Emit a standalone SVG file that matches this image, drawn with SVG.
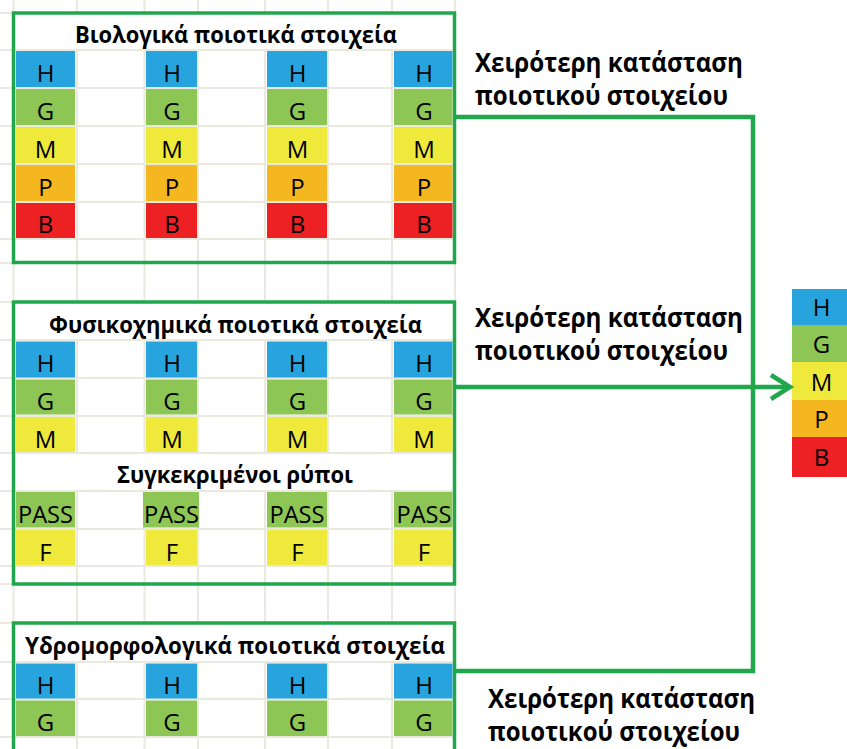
<svg xmlns="http://www.w3.org/2000/svg" width="847" height="749" viewBox="0 0 847 749">
<defs>
<style>
.grid{stroke:#e9e9de;stroke-width:2;fill:none}
.box{fill:none;stroke:#21a74b;stroke-width:3.5}
.conn{fill:none;stroke:#21a74b;stroke-width:4.5;stroke-linejoin:miter}
.H{fill:#27a4dd}.G{fill:#8dc655}.M{fill:#eee93b}.P{fill:#f5b71f}.B{fill:#ed2024}
.c{font-family:'Open Sans','Noto Sans',sans-serif;font-size:24px;fill:#000;text-anchor:middle}
.t{font-family:'Open Sans','Noto Sans',sans-serif;font-size:24px;font-weight:bold;fill:#000;text-anchor:middle}
.l{font-family:'Open Sans','Noto Sans',sans-serif;font-size:27px;font-weight:bold;fill:#000}
</style>
<marker id="arr" markerUnits="userSpaceOnUse" markerWidth="30" markerHeight="34" refX="22" refY="15" orient="auto">
<path d="M3,3 L22,15 L3,27" fill="none" stroke="#21a74b" stroke-width="4.5"/>
</marker>
</defs>
<rect width="847" height="749" fill="#fff"/>
<g id="grid" class="grid">
<path d="M0,13H455M0,50H455M0,88H455M0,126H455M0,164H455M0,202H455M0,239H455M0,263H455M0,302H455M0,340H455M0,378H455M0,416H455M0,453H455M0,491H455M0,529H455M0,566H455M0,584H455M0,623H455M0,662H455M0,699H455M0,737H455"/>
<path d="M13.5,0V749M77,0V749M144.5,0V749M198,0V749M265,0V749M328,0V749M392,0V749M455,0V749"/>
</g>
<g fill="#fff">
<rect x="14" y="14" width="440" height="35"/>
<rect x="14" y="303" width="440" height="36"/>
<rect x="14" y="454" width="440" height="36"/>
<rect x="14" y="624" width="440" height="37"/>
</g>
<g id="bio">
<rect class="box" x="13.5" y="13" width="441" height="249.5"/>
<text class="t" x="236" y="42.5" textLength="322" lengthAdjust="spacingAndGlyphs">Βιολογικά ποιοτικά στοιχεία</text>
<g class="H"><rect x="16" y="51" width="59" height="36"/><rect x="146" y="51" width="51" height="36"/><rect x="267" y="51" width="60" height="36"/><rect x="394" y="51" width="58.5" height="36"/></g>
<g class="G"><rect x="16" y="89" width="59" height="36"/><rect x="146" y="89" width="51" height="36"/><rect x="267" y="89" width="60" height="36"/><rect x="394" y="89" width="58.5" height="36"/></g>
<g class="M"><rect x="16" y="127" width="59" height="36"/><rect x="146" y="127" width="51" height="36"/><rect x="267" y="127" width="60" height="36"/><rect x="394" y="127" width="58.5" height="36"/></g>
<g class="P"><rect x="16" y="165" width="59" height="36"/><rect x="146" y="165" width="51" height="36"/><rect x="267" y="165" width="60" height="36"/><rect x="394" y="165" width="58.5" height="36"/></g>
<g class="B"><rect x="16" y="203" width="59" height="35"/><rect x="146" y="203" width="51" height="35"/><rect x="267" y="203" width="60" height="35"/><rect x="394" y="203" width="58.5" height="35"/></g>
<g class="c">
<text x="45.5" y="81.5">H</text><text x="172" y="81.5">H</text><text x="297.5" y="81.5">H</text><text x="424" y="81.5">H</text>
<text x="45.5" y="119.5">G</text><text x="172" y="119.5">G</text><text x="297.5" y="119.5">G</text><text x="424" y="119.5">G</text>
<text x="45.5" y="157.5">M</text><text x="172" y="157.5">M</text><text x="297.5" y="157.5">M</text><text x="424" y="157.5">M</text>
<text x="45.5" y="195.5">P</text><text x="172" y="195.5">P</text><text x="297.5" y="195.5">P</text><text x="424" y="195.5">P</text>
<text x="45.5" y="232.5">B</text><text x="172" y="232.5">B</text><text x="297.5" y="232.5">B</text><text x="424" y="232.5">B</text>
</g>
</g>
<g id="physchem">
<rect class="box" x="13.5" y="302" width="441" height="282"/>
<text class="t" x="235.5" y="332.5" textLength="373" lengthAdjust="spacingAndGlyphs">Φυσικοχημικά ποιοτικά στοιχεία</text>
<text class="t" x="235" y="482.5" textLength="236" lengthAdjust="spacingAndGlyphs">Συγκεκριμένοι ρύποι</text>
<g class="H"><rect x="16" y="341.5" width="59" height="36"/><rect x="146" y="341.5" width="51" height="36"/><rect x="267" y="341.5" width="60" height="36"/><rect x="394" y="341.5" width="58.5" height="36"/></g>
<g class="G"><rect x="16" y="379.5" width="59" height="35"/><rect x="146" y="379.5" width="51" height="35"/><rect x="267" y="379.5" width="60" height="35"/><rect x="394" y="379.5" width="58.5" height="35"/></g>
<g class="M"><rect x="16" y="417" width="59" height="35"/><rect x="146" y="417" width="51" height="35"/><rect x="267" y="417" width="60" height="35"/><rect x="394" y="417" width="58.5" height="35"/></g>
<g class="G"><rect x="16" y="492" width="59" height="35.5"/><rect x="143" y="492" width="56" height="35.5"/><rect x="267" y="492" width="60" height="35.5"/><rect x="394" y="492" width="58.5" height="35.5"/></g>
<g class="M"><rect x="16" y="530" width="59" height="35"/><rect x="146" y="530" width="51" height="35"/><rect x="267" y="530" width="60" height="35"/><rect x="394" y="530" width="58.5" height="35"/></g>
<g class="c">
<text x="45.5" y="371.5">H</text><text x="172" y="371.5">H</text><text x="297.5" y="371.5">H</text><text x="424" y="371.5">H</text>
<text x="45.5" y="409.5">G</text><text x="172" y="409.5">G</text><text x="297.5" y="409.5">G</text><text x="424" y="409.5">G</text>
<text x="45.5" y="447.5">M</text><text x="172" y="447.5">M</text><text x="297.5" y="447.5">M</text><text x="424" y="447.5">M</text>
<text x="45.5" y="522.5" textLength="55" lengthAdjust="spacingAndGlyphs">PASS</text><text x="171.5" y="522.5" textLength="55" lengthAdjust="spacingAndGlyphs">PASS</text><text x="297" y="522.5" textLength="55" lengthAdjust="spacingAndGlyphs">PASS</text><text x="424" y="522.5" textLength="55" lengthAdjust="spacingAndGlyphs">PASS</text>
<text x="45.5" y="560.5">F</text><text x="172" y="560.5">F</text><text x="297.5" y="560.5">F</text><text x="424" y="560.5">F</text>
</g>
</g>
<g id="hydro">
<path class="box" d="M13.5,760V623H454.5V760"/>
<text class="t" x="235" y="653.5" textLength="420" lengthAdjust="spacingAndGlyphs">Υδρομορφολογικά ποιοτικά στοιχεία</text>
<g class="H"><rect x="16" y="663.5" width="59" height="35"/><rect x="146" y="663.5" width="51" height="35"/><rect x="267" y="663.5" width="60" height="35"/><rect x="394" y="663.5" width="58.5" height="35"/></g>
<g class="G"><rect x="16" y="700.5" width="59" height="35.5"/><rect x="146" y="700.5" width="51" height="35.5"/><rect x="267" y="700.5" width="60" height="35.5"/><rect x="394" y="700.5" width="58.5" height="35.5"/></g>
<g class="c">
<text x="45.5" y="693.5">H</text><text x="172" y="693.5">H</text><text x="297.5" y="693.5">H</text><text x="424" y="693.5">H</text>
<text x="45.5" y="730.5">G</text><text x="172" y="730.5">G</text><text x="297.5" y="730.5">G</text><text x="424" y="730.5">G</text>
</g>
</g>
<g id="result">
<rect class="H" x="792" y="289" width="55" height="36"/>
<rect class="G" x="792" y="325" width="55" height="37"/>
<rect class="M" x="792" y="362" width="55" height="38"/>
<rect class="P" x="792" y="400" width="55" height="37"/>
<rect class="B" x="792" y="437" width="55" height="40"/>
<g class="c">
<text x="821.5" y="316">H</text><text x="821.5" y="353">G</text><text x="821.5" y="391">M</text><text x="821.5" y="428">P</text><text x="821.5" y="466">B</text>
</g>
</g>
<g id="connectors">
<path class="conn" d="M455,117H753V387"/>
<path class="conn" d="M455,671H753V387"/>
<path class="conn" d="M455,387H790" marker-end="url(#arr)"/>
</g>
<g id="edge-labels" class="l">
<text x="475" y="72" textLength="268" lengthAdjust="spacingAndGlyphs">Χειρότερη κατάσταση</text>
<text x="475" y="105" textLength="253" lengthAdjust="spacingAndGlyphs">ποιοτικού στοιχείου</text>
<text x="475" y="327" textLength="268" lengthAdjust="spacingAndGlyphs">Χειρότερη κατάσταση</text>
<text x="475" y="360" textLength="253" lengthAdjust="spacingAndGlyphs">ποιοτικού στοιχείου</text>
<text x="488" y="708" textLength="267" lengthAdjust="spacingAndGlyphs">Χειρότερη κατάσταση</text>
<text x="488" y="741" textLength="252" lengthAdjust="spacingAndGlyphs">ποιοτικού στοιχείου</text>
</g>
</svg>
